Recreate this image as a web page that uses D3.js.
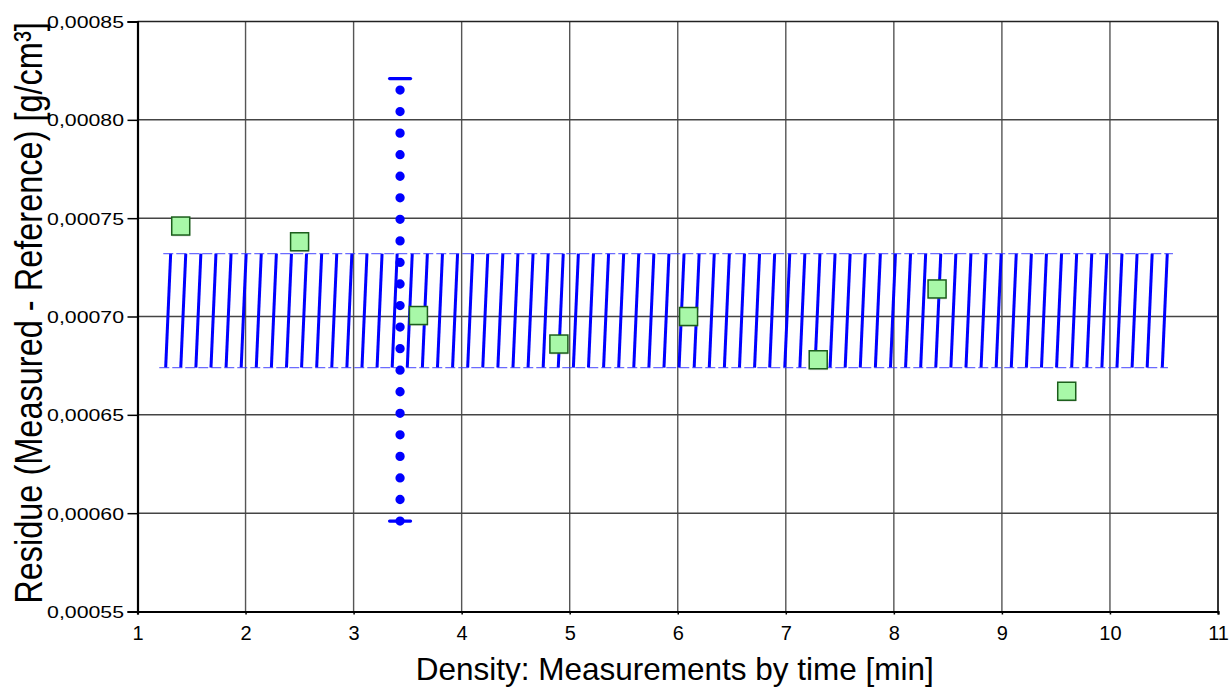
<!DOCTYPE html>
<html>
<head>
<meta charset="utf-8">
<script src="https://cdn.jsdelivr.net/npm/d3@7"></script>
<style>
  html, body { margin: 0; padding: 0; background: #fff; }
  svg { display: block; }
  text { font-family: "Liberation Sans", Arial, sans-serif; fill: #000; }
</style>
</head>
<body>
<svg id="chart" width="1232" height="687"></svg>
<script>
// Measured residues (density), one per measurement time
const measTimes = [1.4, 2.5, 3.6, 4.9, 6.1, 7.3, 8.4, 9.6];
const residues  = [0.000746, 0.000738, 0.0007005, 0.000686, 0.0007, 0.000678, 0.000714, 0.000662];

// Tolerance band (hatched area)
const bandTimes  = [1.22, 10.56];
const bandLimits = [0.000674, 0.000732];

// Vertical range marker
const rangeTime   = [3.43];
const rangeLimits = [0.000596, 0.000821];

// Axis ticks
const xTicks = [1, 2, 3, 4, 5, 6, 7, 8, 9, 10, 11];
const yTicks = [0.00055, 0.00060, 0.00065, 0.00070, 0.00075, 0.00080, 0.00085];

const svg = d3.select("#chart");
const plotL = 137.5, plotR = 1218, plotT = 21.5, plotB = 611.5;

const x = d3.scaleLinear().domain([1, 11]).range([plotL, plotR]);
const y = d3.scaleLinear().domain([0.00055, 0.00085]).range([plotB, plotT]);

const locale = d3.formatLocale({ decimal: ",", thousands: ".", grouping: [3], currency: ["", ""] });
const fmtY = locale.format(".5f");

// Grid
const grid = svg.append("g");
grid.selectAll("line.gx").data(xTicks.slice(1, -1)).join("line")
  .attr("x1", d => x(d)).attr("x2", d => x(d))
  .attr("y1", plotT).attr("y2", plotB)
  .attr("stroke", "#555").attr("stroke-width", 1.4);
grid.selectAll("line.gy").data(yTicks.slice(1, -1)).join("line")
  .attr("x1", plotL).attr("x2", plotR)
  .attr("y1", d => y(d)).attr("y2", d => y(d))
  .attr("stroke", "#444").attr("stroke-width", 1.5);

// Frame
svg.append("line").attr("x1", plotL).attr("x2", plotR).attr("y1", plotT).attr("y2", plotT)
  .attr("stroke", "#222").attr("stroke-width", 1.5);
svg.append("line").attr("x1", plotR).attr("x2", plotR).attr("y1", plotT).attr("y2", plotB)
  .attr("stroke", "#333").attr("stroke-width", 2);

// Axes
const xAxis = svg.append("g").attr("transform", `translate(0,${plotB})`)
  .call(d3.axisBottom(x).tickValues(xTicks).tickSize(3).tickFormat(d3.format("d")));
xAxis.select(".domain").attr("stroke", "#000").attr("stroke-width", 2.2);
xAxis.selectAll(".tick line").attr("stroke", "#000").attr("stroke-width", 1.5);
xAxis.selectAll(".tick text")
  .attr("y", 28.5).attr("dy", null)
  .style("font-size", "20px").style("font-family", "Liberation Sans, Arial, sans-serif");

const yAxis = svg.append("g").attr("transform", `translate(${plotL},0)`)
  .call(d3.axisLeft(y).tickValues(yTicks).tickSize(10).tickFormat(fmtY));
yAxis.select(".domain").attr("stroke", "#000").attr("stroke-width", 2.2);
yAxis.selectAll(".tick line").attr("stroke", "#000").attr("stroke-width", 1.5);
yAxis.selectAll(".tick text")
  .attr("x", null).attr("dy", null)
  .attr("transform", "translate(-13.5,6) scale(1.29,1)")
  .style("font-size", "16.5px").style("font-family", "Liberation Sans, Arial, sans-serif");

// Hatched tolerance band
const band = svg.append("g");
const bx0 = x(bandTimes[0]), bx1 = x(bandTimes[1]);
const byLo = y(bandLimits[0]), byHi = y(bandLimits[1]);
const slant = 5, step = 15.1;
const hatchX = d3.range(bx0 + 4.4, bx1 - 6, step);
band.selectAll("line.hatch").data(hatchX).join("line")
  .attr("x1", d => d).attr("y1", byLo)
  .attr("x2", d => d + slant).attr("y2", byHi)
  .attr("stroke", "#0000ff").attr("stroke-width", 3);
band.append("line")
  .attr("x1", bx0 + 2).attr("x2", bx1 + 2.5).attr("y1", byHi).attr("y2", byHi)
  .attr("stroke", "#3a3aff").attr("stroke-width", 1.2).attr("stroke-dasharray", "10,3").attr("opacity", 0.75);
band.append("line")
  .attr("x1", bx0 - 2).attr("x2", bx1 - 2.5).attr("y1", byLo).attr("y2", byLo)
  .attr("stroke", "#3a3aff").attr("stroke-width", 1.2).attr("stroke-dasharray", "10,3").attr("opacity", 0.75);

// Dotted vertical range marker with end caps
const rx = x(rangeTime[0]);
const rLo = y(rangeLimits[0]), rHi = y(rangeLimits[1]);
svg.append("path")
  .attr("d", d3.line()([[rx, rLo], [rx, rHi]]))
  .attr("stroke", "#0000ff").attr("stroke-width", 9.3)
  .attr("stroke-linecap", "round").attr("stroke-dasharray", "0,21.55").attr("fill", "none");
svg.selectAll("line.cap").data([rLo, rHi]).join("line")
  .attr("x1", rx - 10.5).attr("x2", rx + 10.5)
  .attr("y1", d => d).attr("y2", d => d)
  .attr("stroke", "#0000ff").attr("stroke-width", 3.2).attr("stroke-linecap", "round");

// Measurement markers
const pts = measTimes.map((t, i) => [t, residues[i]]);
const size = 18;
svg.selectAll("rect.shadow").data(pts).join("rect")
  .attr("x", d => x(d[0]) - size / 2 + 0.5).attr("y", d => y(d[1]) - size / 2 + 1.5)
  .attr("width", size).attr("height", size)
  .attr("fill", "#888").attr("opacity", 0.25);
svg.selectAll("rect.pt").data(pts).join("rect")
  .attr("x", d => x(d[0]) - size / 2).attr("y", d => y(d[1]) - size / 2)
  .attr("width", size).attr("height", size)
  .attr("fill", "#a8f8a8").attr("stroke", "#1b5e1b").attr("stroke-width", 1.5);

// Axis titles
svg.append("text")
  .attr("x", (plotL + plotR) / 2 - 3).attr("y", 680)
  .attr("text-anchor", "middle").style("font-size", "31.5px")
  .text("Density: Measurements by time [min]");
svg.append("text")
  .attr("transform", "translate(41.7,313) rotate(-90) scale(1,1.22)")
  .attr("text-anchor", "middle").style("font-size", "32.5px")
  .text("Residue (Measured - Reference) [g/cm³]");
</script>
</body>
</html>
